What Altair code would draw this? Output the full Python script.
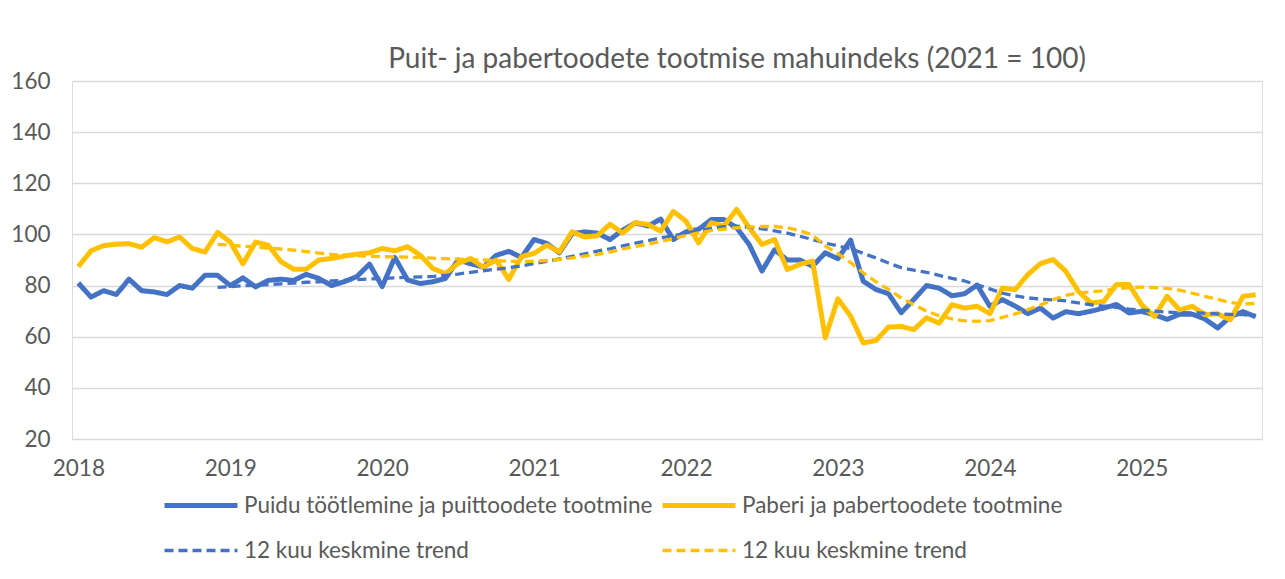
import altair as alt
import pandas as pd

years = ["2018", "2019", "2020", "2021", "2022", "2023", "2024", "2025"]

# Monthly index values, Jan 2018 .. Oct 2025
wood = [81, 75.5, 78, 76.5, 82.5, 78, 77.5, 76.5, 80, 79, 84, 84,
        80, 83, 79.5, 82, 82.5, 82, 84.4, 82.8, 80, 81.5, 83.5, 88.4,
        79.6, 91, 82.2, 80.8, 81.5, 82.8, 90, 88.5, 87.2, 91.8, 93.4, 91,
        98, 96.5, 92.8, 100.3, 101, 100.5, 98, 101.7, 104.5, 103.3, 106, 98,
        101, 102, 105.8, 105.8, 102.6, 96, 85.7, 94, 90, 90, 87.6, 92.8,
        90.5, 97.8, 81.7, 78.5, 76.8, 69.4, 74.6, 80, 79, 76, 76.8, 80.2,
        71.9, 74.5, 72, 69, 71.2, 67.3, 69.8, 69, 70, 71.2, 72.6, 69.3,
        69.9, 68.6, 66.8, 68.8, 68.8, 66.9, 63.4, 67.8, 69.8, 67.8]

paper = [87.4, 93.6, 95.6, 96.2, 96.4, 95, 98.8, 97.1, 99, 94.5, 93.1, 100.8,
         97, 88.5, 97, 95.8, 89.4, 86.4, 86.4, 90, 90.6, 91.5, 92.3, 92.8,
         94.5, 93.6, 95.2, 91.9, 86.7, 84.7, 88.7, 90.6, 87.1, 90, 82.4, 91.3,
         92.6, 95.8, 93.2, 101, 99, 99.5, 104, 100.5, 104.6, 103.9, 101.3, 109,
         105.2, 96.7, 104.6, 103.3, 109.8, 102.6, 96.1, 98, 86.3, 88.3, 89.6, 59.6,
         74.8, 68.1, 57.6, 58.5, 63.8, 64, 62.8, 67.4, 65.3, 72.5, 71.2, 71.9,
         69, 79, 78.4, 84.3, 88.6, 90.2, 85.6, 77.7, 73.2, 73.8, 80.4, 80.4,
         72.5, 67.9, 75.8, 70.5, 71.9, 68.6, 69, 66.6, 75.8, 76.4]

# 12-month trend lines, Dec 2018 .. Oct 2025
wood_trend = [79.3,
              79.6, 79.9, 80.1, 80.4, 80.7, 81, 81.3, 81.5, 81.8, 82, 82.3, 82.6,
              82.8, 83, 83.2, 83.4, 83.6, 84, 84.5, 85.2, 85.8, 86.4, 87, 87.7,
              88.6, 89.5, 90.4, 91.4, 92.4, 93.5, 94.4, 95.5, 96.6, 97.6, 98.7, 99.4,
              100.5, 101.5, 102.3, 103, 103.2, 102.8, 102.2, 101.4, 100.5, 99.3, 98, 96.6,
              95.5, 94.4, 92.6, 90.8, 88.8, 87, 86, 85.2, 84, 82.8, 81.8, 80.3,
              78.7, 77, 76, 75.2, 74.7, 74.4, 74, 73.2, 72.5, 72, 71.5, 70.8,
              70.4, 70, 69.6, 69.4, 69.3, 69.2, 68.9, 68.7, 68.6, 68.3]

paper_trend = [96.1,
               95.8, 95.4, 95.1, 94.7, 94.3, 93.9, 93.3, 92.7, 92.2, 91.9, 91.7, 91.5,
               91.3, 91.2, 91.1, 91, 90.7, 90.5, 90.3, 90.1, 90, 89.8, 89.5, 89.4,
               89.5, 89.8, 90.2, 90.8, 91.5, 92.2, 93.1, 94.3, 95.3, 96.2, 97.3, 98.4,
               99.6, 100.6, 101.5, 102.1, 102.6, 102.9, 103.1, 103.1, 102.6, 101.5, 99.8, 95.5,
               92.5, 89, 85, 81.5, 78.5, 75.2, 72.5, 70, 68.2, 67, 66.2, 66,
               66.3, 67.6, 68.9, 70.6, 72.4, 74.5, 76.2, 77.1, 77.5, 78, 78.7, 79.2,
               79.4, 79.2, 78.9, 78.2, 77, 75.8, 74.6, 73.4, 72.8, 73]

# legend order (filled column by column): col 1 = wood, wood_trend; col 2 = paper, paper_trend
keys = ["wood", "wood_trend", "paper", "paper_trend"]
labels = {"wood": "Puidu töötlemine ja puittoodete tootmine",
          "paper": "Paberi ja pabertoodete tootmine",
          "trend": "12 kuu keskmine trend"}
colors = ["#4472C4", "#4472C4", "#FFC000", "#FFC000"]
dashes = [[1, 0], [9, 5], [1, 0], [9, 5]]
widths = [5, 3.3, 5, 3.3]

title = "Puit- ja pabertoodete tootmise mahuindeks (2021 = 100)"

def frame(key, vals, start):
    return pd.DataFrame({"m": list(range(start, start + len(vals))),
                         "v": vals, "s": key})

# drawing order: solid blue, solid yellow, then trends on top
frames = [frame("wood", wood, 0), frame("paper", paper, 0),
          frame("wood_trend", wood_trend, 11), frame("paper_trend", paper_trend, 11)]

FONT = "Lato"
GREY = "#595959"
FS = 22.5

year_expr = "[" + ",".join("'%s'" % y for y in years) + "][datum.value / 12]"
label_expr = ("datum.label == 'wood' ? '%s' : datum.label == 'paper' ? '%s' : '%s'"
              % (labels["wood"], labels["paper"], labels["trend"]))

xenc = alt.X("m:Q",
             scale=alt.Scale(domain=[-0.5, len(wood) - 0.5], nice=False, zero=False),
             axis=alt.Axis(values=[i * 12 for i in range(len(years))], labelExpr=year_expr,
                           title=None, grid=False, ticks=False, domain=False,
                           labelFontSize=FS, labelColor=GREY, labelFont=FONT,
                           labelPadding=18))
yenc = alt.Y("v:Q",
             scale=alt.Scale(domain=[20, 160], nice=False, zero=False),
             axis=alt.Axis(values=list(range(20, 161, 20)), title=None, ticks=False,
                           domain=False, gridColor="#D9D9D9", gridWidth=1.3,
                           labelFontSize=FS, labelColor=GREY, labelFont=FONT,
                           labelPadding=22))

color = alt.Color("s:N", scale=alt.Scale(domain=keys, range=colors),
                  legend=alt.Legend(title=None, orient="none", legendX=90, legendY=411,
                                    columns=2, symbolType="stroke", symbolSize=5329,
                                    labelExpr=label_expr, labelFontSize=FS,
                                    labelFont=FONT, labelColor=GREY, labelOffset=4,
                                    columnPadding=7, rowPadding=18, clipHeight=27,
                                    labelLimit=600))
dash = alt.StrokeDash("s:N", scale=alt.Scale(type="ordinal", domain=keys, range=dashes),
                      legend=None)
sw = alt.StrokeWidth("s:N", scale=alt.Scale(type="ordinal", domain=keys, range=widths),
                     legend=None)

layers = []
for f in frames:
    layers.append(alt.Chart(f).mark_line(strokeCap="butt", strokeJoin="round").encode(
        x=xenc, y=yenc, color=color, strokeDash=dash, strokeWidth=sw))

chart = alt.layer(*layers).properties(
    width=1190, height=358,
    autosize=alt.AutoSizeParams(type="none"),
    padding={"left": 64, "top": 73, "right": 15, "bottom": 136},
    title=alt.TitleParams(title, fontSize=28, font=FONT, fontWeight="normal",
                          color=GREY, anchor="middle", dx=70, dy=10, offset=6),
).configure_view(stroke=None).configure(background="white")

chart.save("out.html", embed_options={"renderer": "svg", "actions": False})
